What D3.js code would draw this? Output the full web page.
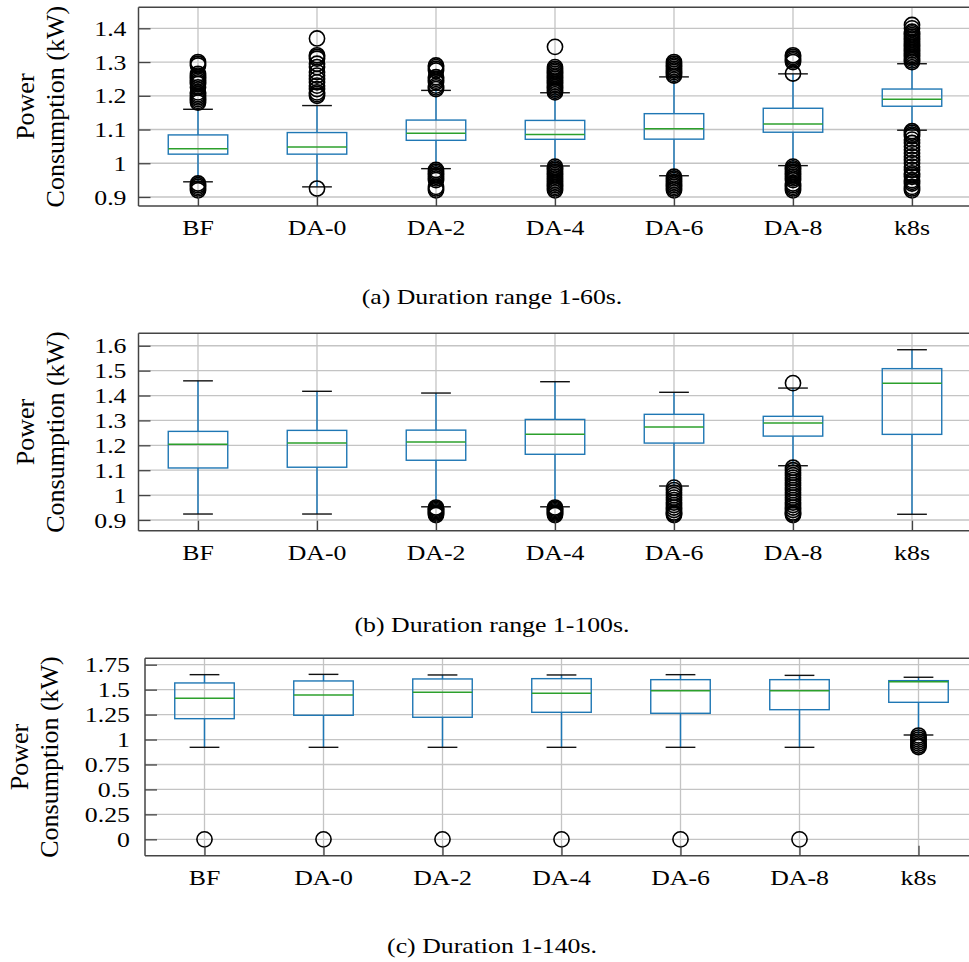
<!DOCTYPE html>
<html><head><meta charset="utf-8">
<script src="https://cdn.jsdelivr.net/npm/d3@7"></script>
<style>
body{margin:0;background:#fff}
svg{display:block}
text{font-family:"Liberation Serif","Times New Roman",serif;fill:#000}
</style>
</head><body>
<svg id="chart" width="969" height="962"></svg>
<script>
const categories = ["BF","DA-0","DA-2","DA-4","DA-6","DA-8","k8s"];

// Panel (a) Duration range 1-60s
const a_q1  = [1.027, 1.027, 1.068, 1.071, 1.0715, 1.092, 1.169];
const a_med = [1.043, 1.048, 1.089, 1.0855, 1.102, 1.116, 1.190];
const a_q3  = [1.084, 1.091, 1.128, 1.127, 1.147, 1.163, 1.220];
const a_lo  = [0.945, 0.930, 0.984, 0.992, 0.963, 0.993, 1.098];
const a_hi  = [1.160, 1.171, 1.216, 1.209, 1.256, 1.265, 1.295];
const a_fliers = [
  [1.18,1.185,1.19,1.195,1.2,1.205,1.21,1.225,1.235,1.24,1.245,1.25,1.255,1.26,1.265,1.29,1.295,1.3,0.92,0.925,0.93,0.935,0.94],
  [1.2,1.205,1.21,1.22,1.23,1.24,1.25,1.26,1.27,1.285,1.295,1.31,1.315,1.32,1.37,0.925],
  [1.22,1.225,1.23,1.24,1.245,1.25,1.255,1.275,1.28,1.285,1.29,0.92,0.925,0.93,0.95,0.955,0.96,0.965,0.97,0.975,0.98],
  [1.21,1.215,1.22,1.225,1.23,1.235,1.24,1.245,1.25,1.255,1.26,1.265,1.27,1.275,1.28,1.285,1.345,0.92,0.925,0.93,0.935,0.94,0.945,0.95,0.955,0.96,0.965,0.97,0.975,0.98,0.985,0.99],
  [1.26,1.265,1.27,1.275,1.28,1.285,1.29,1.295,1.3,0.92,0.925,0.93,0.935,0.94,0.945,0.95,0.955,0.96],
  [1.266,1.3,1.305,1.31,1.315,1.32,0.92,0.925,0.93,0.935,0.94,0.95,0.955,0.96,0.965,0.97,0.975,0.98,0.985,0.99],
  [1.3,1.305,1.31,1.315,1.32,1.325,1.33,1.335,1.34,1.345,1.35,1.355,1.36,1.365,1.37,1.375,1.38,1.385,1.39,1.4,1.41,
   0.92,0.925,0.93,0.94,0.945,0.95,0.96,0.965,0.97,0.98,0.99,1.0,1.01,1.02,1.03,1.04,1.05,1.06,1.07,1.08,1.085,1.09,1.095]
];
const a_ticks = [0.9, 1.0, 1.1, 1.2, 1.3, 1.4];
const a_tickLabels = ["0.9","1","1.1","1.2","1.3","1.4"];

// Panel (b) Duration range 1-100s
const b_q1  = [1.109, 1.112, 1.140, 1.164, 1.209, 1.237, 1.244];
const b_med = [1.204, 1.209, 1.213, 1.244, 1.2735, 1.290, 1.449];
const b_q3  = [1.256, 1.260, 1.261, 1.304, 1.3245, 1.3165, 1.508];
const b_lo  = [0.924, 0.924, 0.953, 0.953, 1.0365, 1.118, 0.923];
const b_hi  = [1.459, 1.417, 1.410, 1.4555, 1.413, 1.430, 1.584];
const b_fliers = [
  [],
  [],
  [0.92,0.925,0.93,0.935,0.94,0.945,0.95],
  [0.92,0.925,0.93,0.935,0.94,0.945,0.95],
  [0.92,0.925,0.93,0.94,0.95,0.96,0.97,0.98,0.99,1.0,1.01,1.02,1.03],
  [1.45,0.92,0.925,0.93,0.94,0.95,0.96,0.97,0.98,0.99,1.0,1.01,1.02,1.03,1.04,1.05,1.06,1.07,1.08,1.09,1.1,1.11],
  []
];
const b_ticks = [0.9, 1.0, 1.1, 1.2, 1.3, 1.4, 1.5, 1.6];
const b_tickLabels = ["0.9","1","1.1","1.2","1.3","1.4","1.5","1.6"];

// Panel (c) Duration 1-140s
const c_q1  = [1.209, 1.243, 1.223, 1.273, 1.263, 1.299, 1.373];
const c_med = [1.413, 1.4465, 1.4735, 1.4635, 1.490, 1.490, 1.580];
const c_q3  = [1.567, 1.587, 1.607, 1.610, 1.600, 1.600, 1.590];
const c_lo  = [0.922, 0.922, 0.922, 0.922, 0.922, 0.922, 1.0455];
const c_hi  = [1.650, 1.653, 1.647, 1.647, 1.650, 1.643, 1.624];
const c_fliers = [[0],[0],[0],[0],[0],[0],[0.925,0.94,0.96,0.98,1.0,1.02,1.04]];
const c_ticks = [0, 0.25, 0.5, 0.75, 1.0, 1.25, 1.5, 1.75];
const c_tickLabels = ["0","0.25","0.5","0.75","1","1.25","1.5","1.75"];

const captions = ["(a) Duration range 1-60s.","(b) Duration range 1-100s.","(c) Duration 1-140s."];
const yLabelLines = ["Power","Consumption (kW)"];

const panels = [
  {q1:a_q1,med:a_med,q3:a_q3,lo:a_lo,hi:a_hi,fl:a_fliers,ticks:a_ticks,labels:a_tickLabels,cap:captions[0],
   domain:[0.8733,1.4623], left:138.5, top:7.3, bottom:206, gap:12, ylx:[34,64], capY:303.6},
  {q1:b_q1,med:b_med,q3:b_q3,lo:b_lo,hi:b_hi,fl:b_fliers,ticks:b_ticks,labels:b_tickLabels,cap:captions[1],
   domain:[0.857,1.650], left:138.5, top:333.3, bottom:530.7, gap:12, ylx:[34,64], capY:632},
  {q1:c_q1,med:c_med,q3:c_q3,lo:c_lo,hi:c_hi,fl:c_fliers,ticks:c_ticks,labels:c_tickLabels,cap:captions[2],
   domain:[-0.164,1.814], left:145, top:658.3, bottom:855.7, gap:15, ylx:[28,58], capY:953.3}
];

const SX = 1.2;         // horizontal text stretch seen in the reference
const FS = 21.5;        // horizontal text font size
const svg = d3.select("#chart");
const BLUE = "#1f77b4", GREEN = "#2ca02c", GRID = "#c4c4c4", SPINE = "#444";

panels.forEach(p => {
  const width = 833;
  const x = d3.scalePoint().domain(categories).range([p.left, p.left + width]).padding(0.5);
  const y = d3.scaleLinear().domain(p.domain).range([p.bottom, p.top]);
  const step = x.step();
  const bw = step * 0.5, cw = step * 0.25;
  const g = svg.append("g");

  // grid
  g.append("g").selectAll("line").data(p.ticks).join("line")
    .attr("x1", p.left).attr("x2", p.left + width)
    .attr("y1", d => y(d)).attr("y2", d => y(d))
    .attr("stroke", GRID).attr("stroke-width", 1.3);
  g.append("g").selectAll("line").data(categories).join("line")
    .attr("x1", d => x(d)).attr("x2", d => x(d))
    .attr("y1", p.top).attr("y2", p.bottom)
    .attr("stroke", GRID).attr("stroke-width", 1.3);

  const data = categories.map((c, i) => ({c, q1:p.q1[i], med:p.med[i], q3:p.q3[i], lo:p.lo[i], hi:p.hi[i], fl:p.fl[i]}));
  const bx = g.append("g").selectAll("g").data(data).join("g");

  // whiskers
  bx.append("line").attr("x1", d => x(d.c)).attr("x2", d => x(d.c))
    .attr("y1", d => y(d.q1)).attr("y2", d => y(d.lo))
    .attr("stroke", BLUE).attr("stroke-width", 1.5);
  bx.append("line").attr("x1", d => x(d.c)).attr("x2", d => x(d.c))
    .attr("y1", d => y(d.q3)).attr("y2", d => y(d.hi))
    .attr("stroke", BLUE).attr("stroke-width", 1.5);
  // box
  bx.append("rect").attr("x", d => x(d.c) - bw/2).attr("width", bw)
    .attr("y", d => y(d.q3)).attr("height", d => y(d.q1) - y(d.q3))
    .attr("fill", "none").attr("stroke", BLUE).attr("stroke-width", 1.4);
  // caps
  ["lo","hi"].forEach(k => {
    bx.append("line").attr("x1", d => x(d.c) - cw/2).attr("x2", d => x(d.c) + cw/2)
      .attr("y1", d => y(d[k])).attr("y2", d => y(d[k]))
      .attr("stroke", "#111").attr("stroke-width", 1.4);
  });
  // median
  bx.append("line").attr("x1", d => x(d.c) - bw/2).attr("x2", d => x(d.c) + bw/2)
    .attr("y1", d => y(d.med)).attr("y2", d => y(d.med))
    .attr("stroke", GREEN).attr("stroke-width", 1.5);
  // fliers
  bx.selectAll("circle").data(d => d.fl.map(v => ({c:d.c, v}))).join("circle")
    .attr("cx", d => x(d.c)).attr("cy", d => y(d.v)).attr("r", 7.6)
    .attr("fill", "none").attr("stroke", "#000").attr("stroke-width", 1.6);

  // y axis ticks (inward)
  const ya = g.append("g").attr("transform", `translate(${p.left},0)`)
    .call(d3.axisLeft(y).tickValues(p.ticks).tickSize(-12).tickPadding(p.gap)
      .tickFormat((d, i) => p.labels[i]));
  ya.select(".domain").remove();
  ya.selectAll(".tick line").attr("stroke", SPINE).attr("stroke-width", 1.3);
  ya.selectAll(".tick text").attr("font-size", FS).attr("font-family", null)
    .attr("x", -p.gap / SX).attr("dy", "0.33em")
    .attr("transform", `scale(${SX},1)`);

  // x axis ticks (inward), labels separately
  const xa = g.append("g").attr("transform", `translate(0,${p.bottom})`)
    .call(d3.axisBottom(x).tickSize(-10).tickFormat(""));
  xa.select(".domain").remove();
  xa.selectAll(".tick line").attr("stroke", SPINE).attr("stroke-width", 1.3);
  g.append("g").selectAll("text").data(categories).join("text")
    .attr("transform", d => `translate(${x(d)},${p.bottom + 29}) scale(${SX},1)`)
    .attr("text-anchor", "middle").attr("font-size", FS).text(d => d);

  // spines
  const sp = g.append("g").attr("stroke", SPINE).attr("stroke-width", 1.5).attr("fill", "none");
  sp.append("line").attr("x1", p.left).attr("x2", p.left).attr("y1", p.top).attr("y2", p.bottom);
  sp.append("line").attr("x1", p.left).attr("x2", p.left + width).attr("y1", p.top).attr("y2", p.top);
  sp.append("line").attr("x1", p.left).attr("x2", p.left + width).attr("y1", p.bottom).attr("y2", p.bottom);
  sp.append("line").attr("x1", p.left + width).attr("x2", p.left + width).attr("y1", p.top).attr("y2", p.bottom);

  // y label (two lines, rotated)
  const cy = (p.top + p.bottom) / 2;
  yLabelLines.forEach((t, i) => {
    g.append("text").attr("transform", `translate(${p.ylx[i]},${cy}) rotate(-90)`)
      .attr("text-anchor", "middle").attr("font-size", 26).text(t);
  });

  // caption
  g.append("text").attr("transform", `translate(492,${p.capY}) scale(${SX},1)`)
    .attr("text-anchor", "middle").attr("font-size", FS).text(p.cap);
});
</script>
</body></html>
